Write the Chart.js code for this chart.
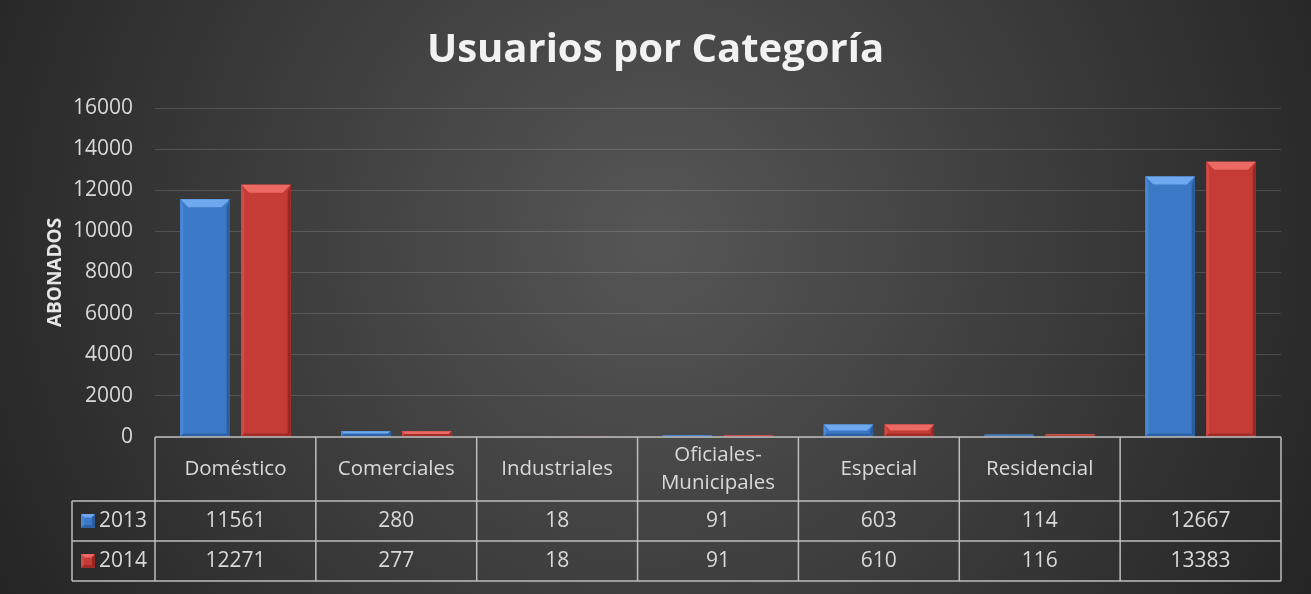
<!DOCTYPE html>
<html>
<head>
<meta charset="utf-8">
<script src="https://cdn.jsdelivr.net/npm/chart.js@4/dist/chart.umd.min.js"></script>
<style>
  html, body { margin: 0; padding: 0; background: #2a2a2a; }
  #wrap { width: 1311px; height: 594px; }
</style>
</head>
<body>
<div id="wrap"><canvas id="chart" width="1311" height="594"></canvas></div>
<script>
// data
const categories = ['Doméstico', 'Comerciales', 'Industriales', ['Oficiales-', 'Municipales'], 'Especial', 'Residencial', ''];
const seriesNames = ['2013', '2014'];
const values2013 = [11561, 280, 18, 91, 603, 114, 12667];
const values2014 = [12271, 277, 18, 91, 610, 116, 13383];
const yTicks = [0, 2000, 4000, 6000, 8000, 10000, 12000, 14000, 16000];

const FONT = "'Open Sans', 'DejaVu Sans', sans-serif";
const textColor = '#d9d9d9';
const lineColor = '#bdbdbd';

// face / bevel colours per series
const colors = [
  { face: '#3b78c6', top: '#6ea8ee', left: '#4a88d6', right: '#2a5c9e', bottom: '#2d62a6' },
  { face: '#c53b36', top: '#ec6a63', left: '#d24a44', right: '#962723', bottom: '#a12d29' }
];

const bgPlugin = {
  id: 'bg',
  beforeDraw(chart) {
    const ctx = chart.ctx;
    const w = chart.width, h = chart.height;
    ctx.save();
    const g = ctx.createRadialGradient(w * 0.5, h * 0.4, 20, w * 0.5, h * 0.4, w * 0.6);
    g.addColorStop(0, '#555555');
    g.addColorStop(1, '#222222');
    ctx.fillStyle = g;
    ctx.fillRect(0, 0, w, h);
    ctx.restore();
  }
};

function bevelBox(ctx, left, top, right, bottom, c, maxB) {
  const hgt = bottom - top;
  const b = Math.max(0, Math.min(maxB, hgt / 2, (right - left) / 4));
  ctx.fillStyle = c.face;
  ctx.fillRect(left, top, right - left, hgt);
  if (b <= 0) return;
  // top
  ctx.fillStyle = c.top;
  ctx.beginPath();
  ctx.moveTo(left, top); ctx.lineTo(right, top);
  ctx.lineTo(right - b, top + b); ctx.lineTo(left + b, top + b);
  ctx.closePath(); ctx.fill();
  const s = Math.min(b, 3);
  // left
  ctx.fillStyle = c.left;
  ctx.beginPath();
  ctx.moveTo(left, top); ctx.lineTo(left + s, top + b);
  ctx.lineTo(left + s, bottom - s); ctx.lineTo(left, bottom);
  ctx.closePath(); ctx.fill();
  // right
  ctx.fillStyle = c.right;
  ctx.beginPath();
  ctx.moveTo(right, top); ctx.lineTo(right - s, top + b);
  ctx.lineTo(right - s, bottom - s); ctx.lineTo(right, bottom);
  ctx.closePath(); ctx.fill();
  // bottom
  ctx.fillStyle = c.bottom;
  ctx.beginPath();
  ctx.moveTo(left, bottom); ctx.lineTo(left + s, bottom - s);
  ctx.lineTo(right - s, bottom - s); ctx.lineTo(right, bottom);
  ctx.closePath(); ctx.fill();
}

const bevelPlugin = {
  id: 'bevel',
  afterDatasetsDraw(chart) {
    const ctx = chart.ctx;
    ctx.save();
    chart.data.datasets.forEach((ds, di) => {
      const meta = chart.getDatasetMeta(di);
      meta.data.forEach(bar => {
        const p = bar.getProps(['x', 'y', 'base', 'width'], true);
        bevelBox(ctx, p.x - p.width / 2, p.y, p.x + p.width / 2, p.base, colors[di], 8);
      });
    });
    ctx.restore();
  }
};

const tablePlugin = {
  id: 'dataTable',
  afterDraw(chart) {
    const ctx = chart.ctx;
    const x = chart.scales.x;
    const area = chart.chartArea;
    const n = categories.length;
    const colW = (x.right - x.left) / n;
    const top = area.bottom;
    const headerH = 64, rowH = 40;
    const rowLeft = 72;
    const rowsTop = top + headerH;
    const bottom = rowsTop + rowH * 2;

    ctx.save();
    ctx.strokeStyle = lineColor;
    ctx.lineWidth = 1.5;
    ctx.beginPath();
    // header top
    ctx.moveTo(x.left, top); ctx.lineTo(x.right, top);
    // row lines
    for (let r = 0; r <= 2; r++) {
      const yy = rowsTop + rowH * r;
      ctx.moveTo(rowLeft, yy); ctx.lineTo(x.right, yy);
    }
    // verticals
    for (let i = 0; i <= n; i++) {
      const xx = x.left + colW * i;
      ctx.moveTo(xx, top); ctx.lineTo(xx, bottom);
    }
    ctx.moveTo(rowLeft, rowsTop); ctx.lineTo(rowLeft, bottom);
    ctx.stroke();

    ctx.fillStyle = textColor;
    ctx.font = '20.5px ' + FONT;
    ctx.textAlign = 'center';
    ctx.textBaseline = 'middle';
    categories.forEach((c, i) => {
      const cx = x.getPixelForValue(i);
      const lines = Array.isArray(c) ? c : [c];
      const lh = 28;
      lines.forEach((t, k) => {
        ctx.fillText(t, cx, top + headerH / 2 + (k - (lines.length - 1) / 2) * lh);
      });
    });

    ctx.font = '21px ' + FONT;
    const rows = [values2013, values2014];
    rows.forEach((vals, r) => {
      const cy = rowsTop + rowH * r + rowH / 2;
      vals.forEach((v, i) => {
        ctx.fillStyle = textColor;
        ctx.textAlign = 'center';
        ctx.fillText(String(v), x.getPixelForValue(i), cy);
      });
      // legend key
      bevelBox(ctx, 81, cy - 7, 95, cy + 7, colors[r], 4);
      ctx.fillStyle = textColor;
      ctx.textAlign = 'left';
      ctx.fillText(seriesNames[r], 99, cy);
    });
    ctx.restore();
  }
};

const ctx = document.getElementById('chart');
new Chart(ctx, {
  type: 'bar',
  data: {
    labels: categories,
    datasets: [
      { label: seriesNames[0], data: values2013, backgroundColor: colors[0].face },
      { label: seriesNames[1], data: values2014, backgroundColor: colors[1].face }
    ]
  },
  options: {
    responsive: false,
    animation: false,
    events: [],
    categoryPercentage: 0.758,
    barPercentage: 0.81,
    layout: { padding: { left: 30, right: 30, top: 0, bottom: 157 } },
    plugins: {
      legend: { display: false },
      tooltip: { enabled: false },
      title: {
        display: true,
        text: 'Usuarios por Categoría',
        color: '#f2f2f2',
        font: { family: FONT, size: 40, weight: 'bold', lineHeight: 1.2 },
        padding: { top: 27, bottom: 33 }
      }
    },
    scales: {
      x: { display: false },
      y: {
        min: 0,
        max: 16000,
        afterFit(scale) { scale.width = 125; },
        afterBuildTicks(scale) { scale.ticks = yTicks.map(v => ({ value: v })); },
        grid: { color: 'rgba(255,255,255,0.14)', lineWidth: 1, drawTicks: false },
        border: { display: false },
        ticks: {
          color: textColor, padding: 22, font: { family: FONT, size: 21 },
          callback: (v) => String(v)
        },
        title: {
          display: true,
          text: 'ABONADOS',
          color: '#e6e6e6',
          font: { family: FONT, size: 19, weight: 'bold', lineHeight: 1.2 },
          padding: { top: 14, bottom: 0 }
        }
      }
    }
  },
  plugins: [bgPlugin, bevelPlugin, tablePlugin]
});
</script>
</body>
</html>
